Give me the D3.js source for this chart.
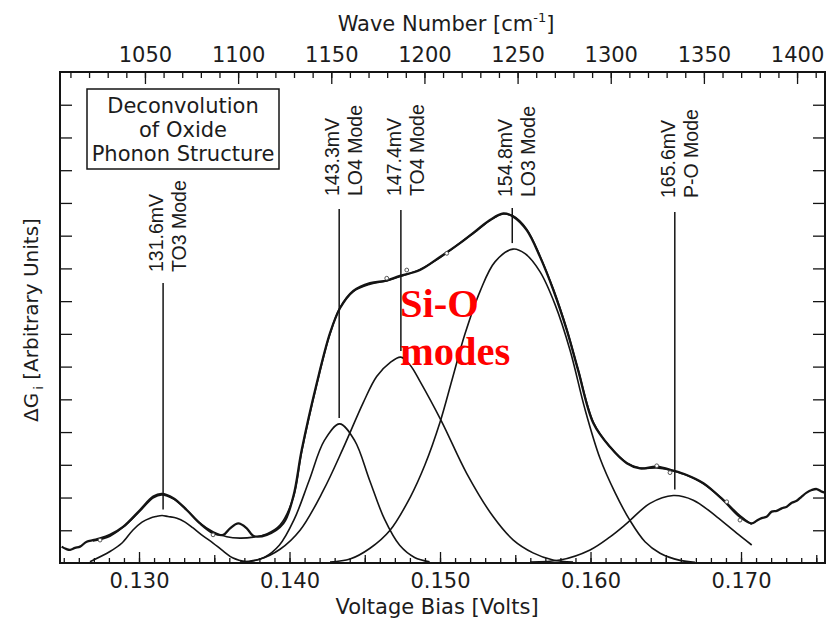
<!DOCTYPE html>
<html>
<head>
<meta charset="utf-8">
<script src="https://cdn.jsdelivr.net/npm/d3@7"></script>
<style>
  body { margin: 0; background: #fff; }
  svg text { font-family: "DejaVu Sans", sans-serif; fill: #1c1c1c; }
  svg .mode text { font-family: "Liberation Sans", Arial, sans-serif; }
  svg text.callout { font-family: "Liberation Serif", "Times New Roman", serif; font-weight: bold; fill: #f00; }
</style>
</head>
<body>
<svg id="chart" width="840" height="620"></svg>
<script>
// Measured tunnelling conductance derivative (bias in volts, ΔG in arbitrary units)
const dataV = [0.12486,0.12515,0.12542,0.12575,0.12608,0.12652,0.12694,0.12741,0.12807,0.12896,
  0.13007,0.13095,0.13151,0.13228,0.13317,0.13405,0.13494,0.13560,0.13605,0.13660,
  0.13716,0.13759,0.13849,0.13959,0.14025,0.14081,0.14181,0.14269,0.14336,0.14424,
  0.14535,0.14646,0.14734,0.14867,0.15000,0.15133,0.15244,0.15332,0.15421,0.15487,
  0.15576,0.15664,0.15753,0.15842,0.15917,0.16019,0.16129,0.16241,0.16329,0.16440,
  0.16550,0.16639,0.16750,0.16882,0.16993,0.17071,0.17104,0.17137,0.17170,0.17204,
  0.17237,0.17270,0.17304,0.17337,0.17370,0.17403,0.17436,0.17470,0.17503,0.17536,0.17558];
const dataG = [0.50,0.43,0.40,0.46,0.50,0.65,0.70,0.75,0.86,1.11,
  1.62,2.03,2.11,1.98,1.62,1.21,0.91,0.86,1.06,1.21,
  1.06,0.83,0.86,1.21,2.03,3.45,5.49,7.02,7.79,8.31,
  8.55,8.63,8.77,8.95,9.35,9.77,10.17,10.48,10.68,10.58,
  10.17,9.36,8.34,7.12,5.90,4.27,3.55,3.05,2.89,2.94,
  2.82,2.69,2.44,1.92,1.41,1.21,1.29,1.37,1.41,1.57,
  1.59,1.67,1.72,1.84,1.90,2.03,2.15,2.23,2.26,2.18,2.15];

// Individual measured points shown as small open circles
const markV = [0.12741,0.13492,0.14646,0.14779,0.15045,0.16440,0.16528,0.16905,0.16993];
const markG = [0.70,0.86,8.70,8.95,9.46,2.97,2.76,1.87,1.31];

// Sum of the fitted modes plus background
const fitV = [0.12694,0.12807,0.12896,0.13007,0.13095,0.13151,0.13228,0.13317,0.13405,0.13494,
  0.13583,0.13671,0.13760,0.13849,0.13937,0.14025,0.14081,0.14181,0.14269,0.14336,
  0.14424,0.14535,0.14646,0.14734,0.14867,0.15000,0.15133,0.15244,0.15332,0.15421,
  0.15487,0.15576,0.15664,0.15753,0.15842,0.15917,0.16019,0.16129,0.16241,0.16329,
  0.16440,0.16550,0.16639,0.16750,0.16882,0.16993,0.17071];
const fitG = [0.67,0.82,1.10,1.59,1.99,2.08,1.96,1.62,1.22,0.95,
  0.80,0.76,0.79,0.89,1.16,1.99,3.40,5.45,7.00,7.80,
  8.30,8.52,8.62,8.75,8.97,9.33,9.78,10.15,10.46,10.66,
  10.60,10.20,9.38,8.36,7.14,5.92,4.30,3.55,3.06,2.90,
  2.90,2.82,2.68,2.42,1.93,1.45,1.18];

// Deconvolved phonon modes
const to3V = [0.12674,0.12807,0.12887,0.12960,0.13020,0.13073,0.13113,0.13153,0.13193,0.13252,0.13306,0.13359,0.13425,0.13492,0.13558,0.13625,0.13718,0.13817];
const to3G = [0.04,0.35,0.61,1.01,1.25,1.37,1.42,1.45,1.42,1.37,1.25,1.07,0.83,0.61,0.37,0.15,0.03,0.00];

const lo4V = [0.13732,0.13832,0.13932,0.14031,0.14131,0.14231,0.14333,0.14433,0.14532,0.14632,0.14732,0.14831,0.14931];
const lo4G = [0.04,0.17,0.54,1.33,2.53,3.74,4.25,3.74,2.53,1.33,0.54,0.17,0.04];

const to4V = [0.13671,0.13804,0.13937,0.14070,0.14223,0.14356,0.14490,0.14579,0.14668,0.14739,0.14801,0.14867,0.15011,0.15177,0.15354,0.15487,0.15618,0.15751,0.15884];
const to4G = [0.03,0.12,0.42,1.00,2.20,3.50,4.90,5.70,6.12,6.29,6.05,5.55,4.32,2.74,1.41,0.70,0.31,0.09,0.03];

const lo3V = [0.14269,0.14402,0.14535,0.14668,0.14801,0.14900,0.15000,0.15080,0.15166,0.15266,0.15365,0.15485,0.15565,0.15664,0.15764,0.15864,0.15963,0.16063,0.16163,0.16262,0.16362,0.16462,0.16595,0.16694];
const lo3G = [0.03,0.12,0.45,1.00,2.00,3.00,4.30,5.60,7.00,8.30,9.20,9.59,9.45,8.90,7.90,6.50,4.70,3.20,2.15,1.30,0.65,0.30,0.08,0.02];

const poV = [0.15598,0.15797,0.15997,0.16130,0.16241,0.16395,0.16550,0.16683,0.16839,0.16971,0.17071];
const poG = [0.03,0.09,0.40,0.80,1.21,1.82,2.06,1.92,1.41,0.91,0.55];

// Mode annotations
const modeV = [0.1316, 0.1433, 0.1474, 0.1548, 0.1656];
const modeEnergy = ["131.6mV", "143.3mV", "147.4mV", "154.8mV", "165.6mV"];
const modeName = ["TO3 Mode", "LO4 Mode", "TO4 Mode", "LO3 Mode", "P-O Mode"];

// Axis tick labels
const biasTicks = [0.130, 0.140, 0.150, 0.160, 0.170];
const waveTicks = [1050, 1100, 1150, 1200, 1250, 1300, 1350, 1400];
const gTicks = [1,2,3,4,5,6,7,8,9,10,11,12,13,14];

const svg = d3.select("#chart");
const plotL = 60, plotR = 825, plotT = 72, plotB = 563;

const x = d3.scaleLinear().domain([0.12475, 0.17558]).range([plotL, plotR]);
const y = d3.scaleLinear().domain([0, 15]).range([plotB, plotT]);
const xTop = d3.scaleLinear().domain([1004.4, 1415.0]).range([plotL, plotR]);

const ink = "#141414";

// ---- axes: ticks point into the plot
function styleAxis(g) {
  g.select(".domain").remove();
  g.selectAll("line").attr("stroke", ink).attr("stroke-width", 1.3);
}

const minorBias = d3.range(0.125, 0.1756, 0.001).map(v => +v.toFixed(3));
svg.append("g").attr("transform", `translate(0,${plotB})`)
  .call(d3.axisBottom(x).tickValues(minorBias).tickSize(-5).tickFormat(""))
  .call(styleAxis);
svg.append("g").attr("transform", `translate(0,${plotB})`)
  .call(d3.axisBottom(x).tickValues([0.135, 0.145, 0.155, 0.165, 0.175]).tickSize(-8).tickFormat(""))
  .call(styleAxis);
svg.append("g").attr("transform", `translate(0,${plotB})`)
  .call(d3.axisBottom(x).tickValues(biasTicks).tickSize(-11).tickPadding(10).tickFormat(d3.format(".3f")))
  .call(styleAxis)
  .call(g => g.selectAll("text").attr("font-size", 21));

const minorWave = d3.range(1010, 1415, 10);
svg.append("g").attr("transform", `translate(0,${plotT})`)
  .call(d3.axisTop(xTop).tickValues(minorWave).tickSize(-6).tickFormat(""))
  .call(styleAxis);
svg.append("g").attr("transform", `translate(0,${plotT})`)
  .call(d3.axisTop(xTop).tickValues(waveTicks).tickSize(-12).tickPadding(10).tickFormat(d3.format("d")))
  .call(styleAxis)
  .call(g => g.selectAll("text").attr("font-size", 21));

svg.append("g").attr("transform", `translate(${plotL},0)`)
  .call(d3.axisLeft(y).tickValues(gTicks).tickSize(-12).tickFormat(""))
  .call(styleAxis);
svg.append("g").attr("transform", `translate(${plotR},0)`)
  .call(d3.axisRight(y).tickValues(gTicks).tickSize(-12).tickFormat(""))
  .call(styleAxis);

// plot frame
svg.append("rect")
  .attr("x", plotL).attr("y", plotT)
  .attr("width", plotR - plotL).attr("height", plotB - plotT)
  .attr("fill", "none").attr("stroke", ink).attr("stroke-width", 2);

// ---- axis titles
svg.append("text")
  .attr("x", 437).attr("y", 614)
  .attr("text-anchor", "middle").attr("font-size", 21)
  .text("Voltage Bias [Volts]");

const topTitle = svg.append("text")
  .attr("x", 446).attr("y", 31)
  .attr("text-anchor", "middle").attr("font-size", 21);
topTitle.append("tspan").text("Wave Number [cm");
topTitle.append("tspan").attr("font-size", 13).attr("dy", -9).text("-1");
topTitle.append("tspan").attr("dy", 9).text("]");

const yTitle = svg.append("text")
  .attr("transform", "translate(38,320) rotate(-90)")
  .attr("text-anchor", "middle").attr("font-size", 20);
yTitle.append("tspan").text("ΔG");
yTitle.append("tspan").attr("font-size", 13).attr("dy", 5).attr("dx", 3).text("i");
yTitle.append("tspan").attr("dy", -5).text(" [Arbitrary Units]");

// ---- curves
const smooth = d3.line().x(d => x(d[0])).y(d => y(d[1])).curve(d3.curveCatmullRom.alpha(0.5));
const pairs = (vs, gs) => vs.map((v, i) => [v, gs[i]]);

const components = [[to3V, to3G], [lo4V, lo4G], [to4V, to4G], [lo3V, lo3G], [poV, poG]];
svg.append("g").selectAll("path")
  .data(components)
  .join("path")
  .attr("d", c => smooth(pairs(c[0], c[1])))
  .attr("fill", "none").attr("stroke", ink).attr("stroke-width", 1.6);

svg.append("path")
  .attr("d", smooth(pairs(fitV, fitG)))
  .attr("fill", "none").attr("stroke", ink).attr("stroke-width", 1.6);

svg.append("path")
  .attr("d", smooth(pairs(dataV, dataG)))
  .attr("fill", "none").attr("stroke", ink).attr("stroke-width", 2.3)
  .attr("stroke-linejoin", "round");

svg.append("g").selectAll("circle")
  .data(pairs(markV, markG))
  .join("circle")
  .attr("cx", d => x(d[0])).attr("cy", d => y(d[1])).attr("r", 1.9)
  .attr("fill", "#fff").attr("stroke", "#444").attr("stroke-width", 0.9);

// ---- mode annotations: leader line and rotated two-line label
const compPeak = components.map(c => d3.max(c[1]));
const labelFoot = [272, 196, 196, 197, 198];
const leaderTop = [283, 209, 210, 208, 212];

const modes = svg.append("g").attr("class", "mode");
modeV.forEach((v, i) => {
  const px = x(v);
  modes.append("line")
    .attr("x1", px).attr("x2", px)
    .attr("y1", leaderTop[i]).attr("y2", y(compPeak[i]) - 6)
    .attr("stroke", ink).attr("stroke-width", 1.5);
  const g = modes.append("g").attr("transform", `translate(${px},${labelFoot[i]}) rotate(-90)`);
  g.append("text").attr("x", 0).attr("y", 0).attr("font-size", 19.5).text(modeEnergy[i]);
  g.append("text").attr("x", 0).attr("y", 23).attr("font-size", 19.5).text(modeName[i]);
});

// ---- inset title box
svg.append("rect")
  .attr("x", 87).attr("y", 89).attr("width", 192).attr("height", 80)
  .attr("fill", "#fff").attr("stroke", ink).attr("stroke-width", 1.5);
const boxLines = ["Deconvolution", "of Oxide", "Phonon Structure"];
svg.append("g").selectAll("text")
  .data(boxLines)
  .join("text")
  .attr("x", 183).attr("y", (d, i) => 113 + i * 24)
  .attr("text-anchor", "middle").attr("font-size", 21)
  .text(d => d);

// ---- highlighted Si-O group
const siO = svg.append("text").attr("class", "callout").attr("font-size", 40.5);
siO.append("tspan").attr("x", 400).attr("y", 317).text("Si-O");
siO.append("tspan").attr("x", 400).attr("y", 365).text("modes");
</script>
</body>
</html>
